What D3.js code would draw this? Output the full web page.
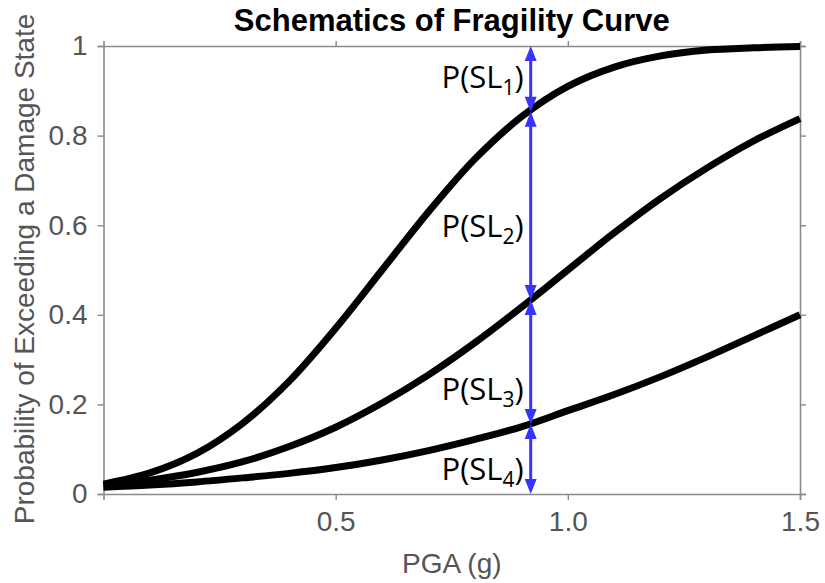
<!DOCTYPE html>
<html>
<head>
<meta charset="utf-8">
<script src="https://cdn.jsdelivr.net/npm/d3@7"></script>
<style>
  html, body { margin: 0; padding: 0; background: #fff; }
  svg { display: block; }
</style>
</head>
<body>
<svg id="chart" width="825" height="583"></svg>
<script>
// ---- data ----
const pga = [0, 0.1, 0.2, 0.3, 0.4, 0.5, 0.6, 0.7, 0.8, 0.9, 1.0, 1.1, 1.2, 1.3, 1.4, 1.5];
const curveSL1 = [0.022, 0.047, 0.090, 0.158, 0.252, 0.370, 0.500, 0.630, 0.748, 0.842, 0.910, 0.953, 0.978, 0.991, 0.996, 0.999];
const curveSL2 = [0.019, 0.031, 0.048, 0.072, 0.106, 0.149, 0.203, 0.266, 0.338, 0.417, 0.500, 0.583, 0.660, 0.728, 0.788, 0.838];
const curveSL3 = [0.015, 0.020, 0.027, 0.036, 0.046, 0.059, 0.076, 0.097, 0.122, 0.150, 0.186, 0.222, 0.262, 0.306, 0.353, 0.400];
const arrowPGA = 0.92;
const arrowStops = [1, 0.853, 0.433, 0.156, 0];
const stateLabels = ["1", "2", "3", "4"];
const xTicks = [0.5, 1.0, 1.5];
const xTickLabels = ["0.5", "1.0", "1.5"];
const yTicks = [0, 0.2, 0.4, 0.6, 0.8, 1];
const yTickLabels = ["0", "0.2", "0.4", "0.6", "0.8", "1"];
const titleText = "Schematics of Fragility Curve";
const xLabelText = "PGA (g)";
const yLabelText = "Probability of Exceeding a Damage State";

// ---- layout ----
const svg = d3.select("#chart");
const L = 103.5, R = 800, T = 46, B = 494;
const x = d3.scaleLinear().domain([0, 1.5]).range([L, R]);
const y = d3.scaleLinear().domain([0, 1]).range([B, T]);
const axisColor = "#8a8a8a";
const textColor = "#555555";
const font = "'Liberation Sans', Arial, Helvetica, sans-serif";

// axes box
const gAxes = svg.append("g");
function styleAxis(g) {
  g.select(".domain").attr("stroke", axisColor).attr("stroke-width", 1.6);
  g.selectAll(".tick line").attr("stroke", axisColor).attr("stroke-width", 1.4);
  g.selectAll(".tick text").attr("fill", textColor).attr("font-family", font).attr("font-size", 28);
}
const xAxisB = d3.axisBottom(x).tickValues(xTicks).tickFormat((d, i) => xTickLabels[i]).tickSizeOuter(0).tickSize(6).tickPadding(11);
gAxes.append("g").attr("transform", `translate(0,${B})`).call(xAxisB).call(styleAxis);
const xAxisT = d3.axisTop(x).tickValues(xTicks).tickFormat("").tickSizeOuter(0).tickSize(5);
gAxes.append("g").attr("transform", `translate(0,${T})`).call(xAxisT).call(styleAxis);
const yAxisL = d3.axisLeft(y).tickValues(yTicks).tickFormat((d, i) => yTickLabels[i]).tickSizeOuter(0).tickSize(6).tickPadding(10);
gAxes.append("g").attr("transform", `translate(${L},0)`).call(yAxisL).call(styleAxis);
const yAxisR = d3.axisRight(y).tickValues(yTicks).tickFormat("").tickSizeOuter(0).tickSize(6);
gAxes.append("g").attr("transform", `translate(${R},0)`).call(yAxisR).call(styleAxis);

// curves
const line = d3.line().x((d, i) => x(pga[i])).y(d => y(d)).curve(d3.curveCatmullRom.alpha(0.5));
[curveSL1, curveSL2, curveSL3].forEach(vals => {
  svg.append("path")
    .attr("d", line(vals))
    .attr("fill", "none")
    .attr("stroke", "#000")
    .attr("stroke-width", 7);
});

// blue double-headed arrows
const blue = "#3535ff";
const ax = x(arrowPGA);
const headL = 15, headW = 6;
const gArr = svg.append("g");
for (let i = 0; i < arrowStops.length - 1; i++) {
  const y1 = y(arrowStops[i]), y2 = y(arrowStops[i + 1]);
  gArr.append("line").attr("x1", ax).attr("x2", ax).attr("y1", y1 + 4).attr("y2", y2 - 4)
    .attr("stroke", blue).attr("stroke-width", 3);
  gArr.append("path").attr("d", `M${ax},${y1} L${ax - headW},${y1 + headL} L${ax + headW},${y1 + headL} Z`).attr("fill", blue);
  gArr.append("path").attr("d", `M${ax},${y2} L${ax - headW},${y2 - headL} L${ax + headW},${y2 - headL} Z`).attr("fill", blue);
}

// state labels
const labelFont = "'Open Sans', Calibri, Carlito, sans-serif";
const labelBaselines = [88, 237, 400, 480];
stateLabels.forEach((s, i) => {
  const t = svg.append("text")
    .attr("x", ax - 7)
    .attr("y", labelBaselines[i])
    .attr("text-anchor", "end")
    .attr("font-family", labelFont)
    .attr("font-size", 31)
    .attr("fill", "#000");
  t.append("tspan").text("P(SL");
  t.append("tspan").attr("font-size", 21).attr("dy", 7).text(s);
  t.append("tspan").attr("dy", -7).text(")");
});

// title and axis labels
svg.append("text").attr("x", (L + R) / 2).attr("y", 31).attr("text-anchor", "middle")
  .attr("font-family", font).attr("font-weight", "bold").attr("font-size", 31).attr("fill", "#000")
  .text(titleText);
svg.append("text").attr("x", (L + R) / 2).attr("y", 573).attr("text-anchor", "middle")
  .attr("font-family", font).attr("font-size", 28).attr("fill", textColor)
  .text(xLabelText);
svg.append("text").attr("transform", `translate(34,${(T + B) / 2 - 1}) rotate(-90)`).attr("text-anchor", "middle")
  .attr("font-family", font).attr("font-size", 28).attr("fill", textColor)
  .text(yLabelText);
</script>
</body>
</html>
